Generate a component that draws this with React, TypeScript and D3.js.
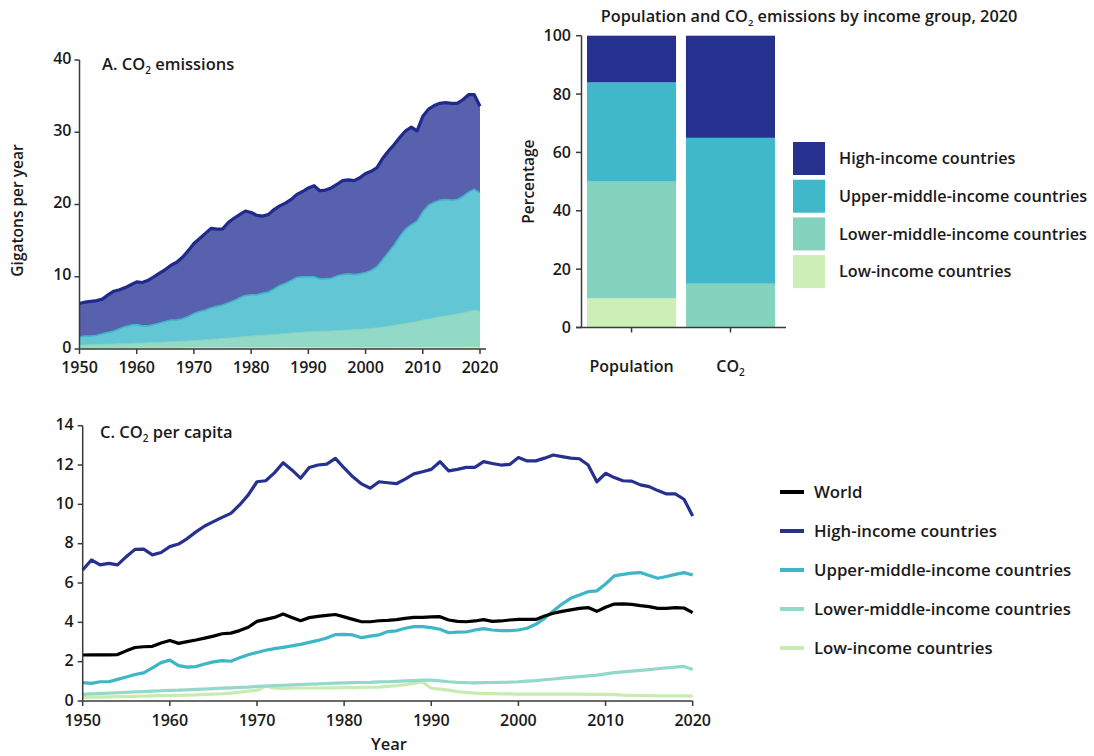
import React from "react";
import * as d3 from "d3";

// ---------- Panel A data: CO2 emissions by income group (Gt/yr) ----------
const yearsA = d3.range(1950, 2021);
const emLow = [
  0.08, 0.08, 0.09, 0.09, 0.09, 0.1, 0.1, 0.1, 0.11, 0.11,
  0.12, 0.12, 0.12, 0.13, 0.13, 0.13, 0.14, 0.14, 0.15, 0.15,
  0.16, 0.16, 0.17, 0.17, 0.17, 0.17, 0.18, 0.18, 0.18, 0.19,
  0.19, 0.19, 0.19, 0.19, 0.19, 0.2, 0.2, 0.2, 0.2, 0.2,
  0.19, 0.18, 0.17, 0.17, 0.17, 0.17, 0.17, 0.17, 0.18, 0.18,
  0.18, 0.18, 0.18, 0.19, 0.19, 0.2, 0.2, 0.21, 0.21, 0.21,
  0.22, 0.22, 0.22, 0.23, 0.23, 0.23, 0.24, 0.24, 0.25, 0.25,
  0.24,
];
const emLowerMiddle = [
  0.47, 0.49, 0.5, 0.52, 0.54, 0.56, 0.59, 0.62, 0.64, 0.67,
  0.68, 0.7, 0.73, 0.75, 0.79, 0.83, 0.86, 0.9, 0.93, 0.97,
  1.02, 1.06, 1.1, 1.16, 1.21, 1.27, 1.32, 1.4, 1.47, 1.53,
  1.59, 1.64, 1.7, 1.76, 1.82, 1.87, 1.93, 2.0, 2.07, 2.13,
  2.21, 2.25, 2.28, 2.31, 2.33, 2.38, 2.43, 2.46, 2.48, 2.52,
  2.6, 2.67, 2.74, 2.83, 2.96, 3.07, 3.2, 3.34, 3.47, 3.57,
  3.78, 3.93, 4.08, 4.22, 4.35, 4.47, 4.61, 4.76, 4.95, 5.15,
  4.96,
];
const emUpperMiddle = [
  1.15, 1.23, 1.21, 1.29, 1.47, 1.64, 1.81, 2.08, 2.35, 2.52,
  2.6, 2.38, 2.35, 2.52, 2.68, 2.84, 3.0, 2.96, 3.12, 3.38,
  3.72, 3.98, 4.13, 4.37, 4.52, 4.66, 4.9, 5.12, 5.45, 5.68,
  5.72, 5.67, 5.81, 5.95, 6.29, 6.73, 6.97, 7.3, 7.63, 7.67,
  7.6, 7.57, 7.25, 7.22, 7.3, 7.55, 7.7, 7.77, 7.64, 7.7,
  7.82, 8.05, 8.48, 9.38, 10.25, 11.13, 12.2, 13.05, 13.52, 13.92,
  15.0, 15.75, 16.0, 16.15, 16.12, 15.9, 15.85, 16.1, 16.5, 16.7,
  16.4,
];
const emHigh = [
  4.6, 4.7, 4.8, 4.8, 4.8, 5.2, 5.5, 5.4, 5.4, 5.6,
  5.9, 6.0, 6.3, 6.6, 6.9, 7.2, 7.6, 8.0, 8.5, 9.1,
  9.7, 10.1, 10.6, 11.0, 10.7, 10.5, 11.1, 11.4, 11.5, 11.7,
  11.4, 11.0, 10.7, 10.7, 11.0, 11.0, 11.1, 11.2, 11.5, 11.8,
  12.3, 12.6, 12.2, 12.3, 12.5, 12.7, 13.0, 13.0, 13.0, 13.3,
  13.7, 13.7, 13.7, 14.0, 14.0, 13.9, 13.7, 13.6, 13.5, 12.5,
  13.2, 13.3, 13.4, 13.4, 13.4, 13.4, 13.3, 13.4, 13.5, 13.1,
  12.0,
];
const ticksA_y = [0, 10, 20, 30, 40];
const ticksA_x = [1950, 1960, 1970, 1980, 1990, 2000, 2010, 2020];

// ---------- Panel B data: shares 2020 (%) ----------
const barCategories = ["Population", "CO2"];
const shareLow = [10, 0];
const shareLowerMiddle = [40, 15];
const shareUpperMiddle = [34, 50];
const shareHigh = [16, 35];
const ticksB_y = [0, 20, 40, 60, 80, 100];

// ---------- Panel C data: CO2 per capita (t) ----------
const yearsC = d3.range(1950, 2021);
const pcWorld = [
  2.34, 2.35, 2.35, 2.35, 2.36, 2.55, 2.72, 2.76, 2.78, 2.95,
  3.08, 2.93, 3.02, 3.1, 3.2, 3.3, 3.42, 3.45, 3.58, 3.75,
  4.05, 4.15, 4.25, 4.42, 4.25, 4.08, 4.24, 4.3, 4.35, 4.4,
  4.28, 4.15, 4.03, 4.03, 4.08, 4.1, 4.14, 4.2, 4.25, 4.25,
  4.28, 4.29, 4.12, 4.05, 4.03, 4.07, 4.14, 4.05, 4.07, 4.12,
  4.15, 4.15, 4.15, 4.32, 4.46, 4.56, 4.63, 4.71, 4.75, 4.56,
  4.77, 4.93, 4.94, 4.91, 4.85, 4.8, 4.71, 4.71, 4.75, 4.73,
  4.49,
];
const pcHigh = [
  6.66, 7.17, 6.92, 7.0, 6.92, 7.34, 7.71, 7.72, 7.43, 7.55,
  7.85, 7.98, 8.26, 8.6, 8.9, 9.12, 9.34, 9.54, 9.97, 10.48,
  11.15, 11.2, 11.6, 12.12, 11.75, 11.33, 11.87, 12.0, 12.05, 12.34,
  11.85, 11.4, 11.04, 10.82, 11.15, 11.1, 11.05, 11.28, 11.55, 11.66,
  11.78, 12.17, 11.7, 11.78, 11.88, 11.88, 12.17, 12.08, 12.0, 12.03,
  12.38, 12.21, 12.21, 12.35, 12.51, 12.43, 12.35, 12.32, 12.0, 11.15,
  11.58, 11.36, 11.2, 11.18, 10.99, 10.9, 10.7, 10.53, 10.53, 10.26,
  9.41,
];
const pcUpperMiddle = [
  0.93, 0.9, 0.98, 0.98, 1.1, 1.22, 1.35, 1.43, 1.69, 1.95,
  2.08, 1.8, 1.72, 1.75, 1.88, 1.99, 2.05, 2.02, 2.2, 2.35,
  2.47, 2.58, 2.66, 2.73, 2.8, 2.88, 2.98, 3.08, 3.2, 3.38,
  3.39, 3.36, 3.22, 3.3, 3.36, 3.53, 3.57, 3.7, 3.78, 3.78,
  3.73, 3.65, 3.47, 3.5, 3.51, 3.61, 3.68, 3.61, 3.58, 3.58,
  3.61, 3.7, 3.9, 4.2, 4.58, 4.93, 5.22, 5.39, 5.56, 5.6,
  5.95, 6.36, 6.44, 6.5, 6.53, 6.38, 6.24, 6.33, 6.44, 6.53,
  6.41,
];
const pcLowerMiddle = [
  0.34, 0.36, 0.38, 0.4, 0.42, 0.44, 0.46, 0.48, 0.5, 0.52,
  0.54, 0.55, 0.57, 0.59, 0.61, 0.63, 0.65, 0.67, 0.69, 0.71,
  0.74, 0.76, 0.78, 0.8, 0.82, 0.84, 0.86, 0.87, 0.89, 0.91,
  0.92, 0.93, 0.94, 0.95, 0.97, 0.98, 1.0, 1.02, 1.04, 1.06,
  1.06, 1.02, 0.98, 0.95, 0.93, 0.92, 0.93, 0.94, 0.95, 0.96,
  0.98, 1.01, 1.04, 1.08, 1.12, 1.16, 1.2, 1.24, 1.28, 1.32,
  1.38, 1.44, 1.48, 1.52, 1.56, 1.6, 1.64, 1.68, 1.72, 1.76,
  1.6,
];
const pcLow = [
  0.18, 0.19, 0.2, 0.21, 0.22, 0.23, 0.24, 0.25, 0.26, 0.27,
  0.28, 0.29, 0.3, 0.31, 0.33, 0.35, 0.37, 0.4, 0.45, 0.5,
  0.55, 0.75, 0.65, 0.64, 0.65, 0.66, 0.66, 0.66, 0.67, 0.67,
  0.68, 0.68, 0.69, 0.7, 0.71, 0.74, 0.78, 0.83, 0.9, 0.97,
  0.65, 0.6, 0.55, 0.48, 0.44, 0.4, 0.38, 0.37, 0.36, 0.36,
  0.35, 0.35, 0.35, 0.35, 0.35, 0.35, 0.35, 0.35, 0.34, 0.34,
  0.34, 0.32, 0.3, 0.29, 0.28, 0.27, 0.26, 0.26, 0.26, 0.26,
  0.25,
];
const ticksC_y = [0, 2, 4, 6, 8, 10, 12, 14];
const ticksC_x = [1950, 1960, 1970, 1980, 1990, 2000, 2010, 2020];

const groupNames = [
  "High-income countries",
  "Upper-middle-income countries",
  "Lower-middle-income countries",
  "Low-income countries",
];

const FONT = "'Open Sans', 'DejaVu Sans', sans-serif";
const TXT = "#1a1a1a";
const AX = "#3a3a3a";

// Text with a "CO2" subscript: before + CO + ₂ + after
function co2Text(before: string, after: string, sub = 10, dy = 4) {
  return (
    <>
      <tspan>{before + "CO"}</tspan>
      <tspan fontSize={sub} dy={dy}>2</tspan>
      {after ? <tspan dy={-dy}>{after}</tspan> : null}
    </>
  );
}

export default function App() {
  // ---------- Panel A ----------
  const xA = d3.scaleLinear().domain([1950, 2020]).range([79.5, 480]);
  const yA = d3.scaleLinear().domain([0, 40]).range([349, 60]);
  const keysA = ["low", "lower", "upper", "high"];
  const tableA = yearsA.map((yr, i) => ({
    year: yr,
    low: emLow[i],
    lower: emLowerMiddle[i],
    upper: emUpperMiddle[i],
    high: emHigh[i],
  }));
  const stackA = d3.stack<any>().keys(keysA)(tableA);
  const areaA = d3
    .area<any>()
    .x((d) => xA(d.data.year))
    .y0((d) => yA(d[0]))
    .y1((d) => yA(d[1]));
  const topA = d3
    .line<any>()
    .x((d) => xA(d.data.year))
    .y((d) => yA(d[1]));
  const fillA: Record<string, string> = {
    low: "#d6f1b8",
    lower: "#92d9c8",
    upper: "#63c6d4",
    high: "#5761ad",
  };
  const strokeA: Record<string, string> = {
    low: "#c9ea9f",
    lower: "#85d2c0",
    upper: "#3fb4c9",
    high: "#1f2a8c",
  };
  const strokeWA: Record<string, number> = { low: 1, lower: 1, upper: 1.6, high: 3.2 };

  // ---------- Panel B ----------
  const xB = d3.scaleBand<string>().domain(barCategories).range([587, 775]).paddingInner(0.1).paddingOuter(0);
  const yB = d3.scaleLinear().domain([0, 100]).range([327.5, 35.7]);
  const keysB = ["low", "lower", "upper", "high"];
  const tableB = barCategories.map((c, i) => ({
    cat: c,
    low: shareLow[i],
    lower: shareLowerMiddle[i],
    upper: shareUpperMiddle[i],
    high: shareHigh[i],
  }));
  const stackB = d3.stack<any>().keys(keysB)(tableB);
  const fillB: Record<string, string> = {
    high: "#26318f",
    upper: "#41b8c9",
    lower: "#84d3bf",
    low: "#cdeeb6",
  };
  const legendBKeys = ["high", "upper", "lower", "low"];

  // ---------- Panel C ----------
  const xC = d3.scaleLinear().domain([1950, 2020]).range([82.7, 692.7]);
  const yC = d3.scaleLinear().domain([0, 14]).range([701, 425.7]);
  const seriesC = [
    { name: "Low-income countries", values: pcLow, color: "#c8ecb0" },
    { name: "Lower-middle-income countries", values: pcLowerMiddle, color: "#93d9cb" },
    { name: "Upper-middle-income countries", values: pcUpperMiddle, color: "#3db6c7" },
    { name: "World", values: pcWorld, color: "#000000" },
    { name: "High-income countries", values: pcHigh, color: "#26308e" },
  ];
  const lineC = d3
    .line<number>()
    .x((_, i) => xC(yearsC[i]))
    .y((v) => yC(v));
  const legendC = [
    { name: "World", color: "#000000" },
    { name: groupNames[0], color: "#26308e" },
    { name: groupNames[1], color: "#3db6c7" },
    { name: groupNames[2], color: "#93d9cb" },
    { name: groupNames[3], color: "#c8ecb0" },
  ];

  return (
    <svg
      width={1094}
      height={756}
      style={{ position: "absolute", left: 0, top: 0, background: "#fff" }}
      fontFamily={FONT}
    >
      {/* ================= Panel A ================= */}
      <g>
        {stackA.map((s) => (
          <path key={s.key} d={areaA(s) || ""} fill={fillA[s.key]} />
        ))}
        {stackA.map((s) => (
          <path
            key={"l" + s.key}
            d={topA(s) || ""}
            fill="none"
            stroke={strokeA[s.key]}
            strokeWidth={strokeWA[s.key]}
            strokeLinejoin="round"
          />
        ))}
        <line x1={xA(1950)} x2={xA(1950)} y1={yA(0)} y2={yA(40)} stroke={AX} strokeWidth={1.5} />
        <line x1={xA(1950)} x2={xA(2020) + 6} y1={yA(0)} y2={yA(0)} stroke={AX} strokeWidth={1.5} />
        {ticksA_y.map((t) => (
          <g key={t}>
            <line x1={xA(1950) - 5} x2={xA(1950)} y1={yA(t)} y2={yA(t)} stroke={AX} strokeWidth={1.5} />
            <text x={xA(1950) - 8} y={yA(t) - 2} dy="0.35em" textAnchor="end" fontSize={16} fontWeight={600} fill={TXT}>
              {t}
            </text>
          </g>
        ))}
        {ticksA_x.map((t) => (
          <g key={t}>
            <line x1={xA(t)} x2={xA(t)} y1={yA(0)} y2={yA(0) + 5} stroke={AX} strokeWidth={1.5} />
            <text x={xA(t)} y={yA(0) + 24} textAnchor="middle" fontSize={16} fontWeight={600} fill={TXT}>
              {t}
            </text>
          </g>
        ))}
        <text
          transform={`translate(23,${(yA(0) + yA(40)) / 2 + 6}) rotate(-90)`}
          textAnchor="middle"
          fontSize={15.5}
          fontWeight={600}
          fill={TXT}
        >
          Gigatons per year
        </text>
        <text x={102} y={70} fontSize={16.5} fontWeight={600} fill={TXT}>
          {co2Text("A. ", " emissions")}
        </text>
      </g>

      {/* ================= Panel B ================= */}
      <g>
        <text x={809} y={22} textAnchor="middle" fontSize={16.3} fontWeight={600} fill={TXT}>
          {co2Text("Population and ", " emissions by income group, 2020", 9.5, 4)}
        </text>
        {stackB.map((s) =>
          s.map((d: any, i: number) => (
            <rect
              key={s.key + i}
              x={xB(d.data.cat)!}
              width={xB.bandwidth()}
              y={yB(d[1])}
              height={Math.max(0, yB(d[0]) - yB(d[1]))}
              fill={fillB[s.key]}
            />
          ))
        )}
        <line x1={581.5} x2={581.5} y1={yB(0)} y2={yB(100)} stroke={AX} strokeWidth={1.5} />
        <line x1={576} x2={786} y1={yB(0)} y2={yB(0)} stroke={AX} strokeWidth={1.5} />
        {ticksB_y.map((t) => (
          <g key={t}>
            <line x1={576} x2={581.5} y1={yB(t)} y2={yB(t)} stroke={AX} strokeWidth={1.5} />
            <text x={571} y={yB(t)} dy="0.35em" textAnchor="end" fontSize={16} fontWeight={600} fill={TXT}>
              {t}
            </text>
          </g>
        ))}
        {barCategories.map((c) => (
          <g key={c}>
            <line
              x1={xB(c)! + xB.bandwidth() / 2}
              x2={xB(c)! + xB.bandwidth() / 2}
              y1={yB(0)}
              y2={yB(0) + 5}
              stroke={AX}
              strokeWidth={1.5}
            />
            <text
              x={xB(c)! + xB.bandwidth() / 2}
              y={372}
              textAnchor="middle"
              fontSize={16}
              fontWeight={600}
              fill={TXT}
            >
              {c === "CO2" ? co2Text("", "") : c}
            </text>
          </g>
        ))}
        <text
          transform={`translate(534,${(yB(0) + yB(100)) / 2}) rotate(-90)`}
          textAnchor="middle"
          fontSize={15.5}
          fontWeight={600}
          fill={TXT}
        >
          Percentage
        </text>
        {legendBKeys.map((k, i) => (
          <g key={k} transform={`translate(793,${142 + i * 37.7})`}>
            <rect width={32} height={33} fill={fillB[k]} />
            <text x={46} y={16.5} dy="0.35em" fontSize={16.2} fontWeight={600} fill={TXT}>
              {groupNames[i]}
            </text>
          </g>
        ))}
      </g>

      {/* ================= Panel C ================= */}
      <g>
        {seriesC.map((s) => (
          <path
            key={s.name}
            d={lineC(s.values) || ""}
            fill="none"
            stroke={s.color}
            strokeWidth={3.2}
            strokeLinejoin="round"
          />
        ))}
        <line x1={xC(1950)} x2={xC(1950)} y1={yC(0)} y2={yC(14)} stroke={AX} strokeWidth={1.5} />
        <line x1={xC(1950)} x2={xC(2020)} y1={yC(0)} y2={yC(0)} stroke={AX} strokeWidth={1.5} />
        {ticksC_y.map((t) => (
          <g key={t}>
            <line x1={xC(1950) - 5} x2={xC(1950)} y1={yC(t)} y2={yC(t)} stroke={AX} strokeWidth={1.5} />
            <text x={xC(1950) - 9} y={yC(t) - 1} dy="0.35em" textAnchor="end" fontSize={16} fontWeight={600} fill={TXT}>
              {t}
            </text>
          </g>
        ))}
        {ticksC_x.map((t) => (
          <g key={t}>
            <line x1={xC(t)} x2={xC(t)} y1={yC(0)} y2={yC(0) + 5} stroke={AX} strokeWidth={1.5} />
            <text x={xC(t)} y={yC(0) + 25} textAnchor="middle" fontSize={16} fontWeight={600} fill={TXT}>
              {t}
            </text>
          </g>
        ))}
        <text x={389} y={750} textAnchor="middle" fontSize={16.5} fontWeight={600} fill={TXT}>
          Year
        </text>
        <text x={100} y={438} fontSize={16.5} fontWeight={600} fill={TXT}>
          {co2Text("C. ", " per capita")}
        </text>
        {legendC.map((l, i) => (
          <g key={l.name} transform={`translate(780,${492 + i * 39})`}>
            <line x1={0} x2={24} y1={0} y2={0} stroke={l.color} strokeWidth={4} />
            <text x={34} y={0} dy="0.35em" fontSize={16.8} fontWeight={600} fill={TXT}>
              {l.name}
            </text>
          </g>
        ))}
      </g>
    </svg>
  );
}
